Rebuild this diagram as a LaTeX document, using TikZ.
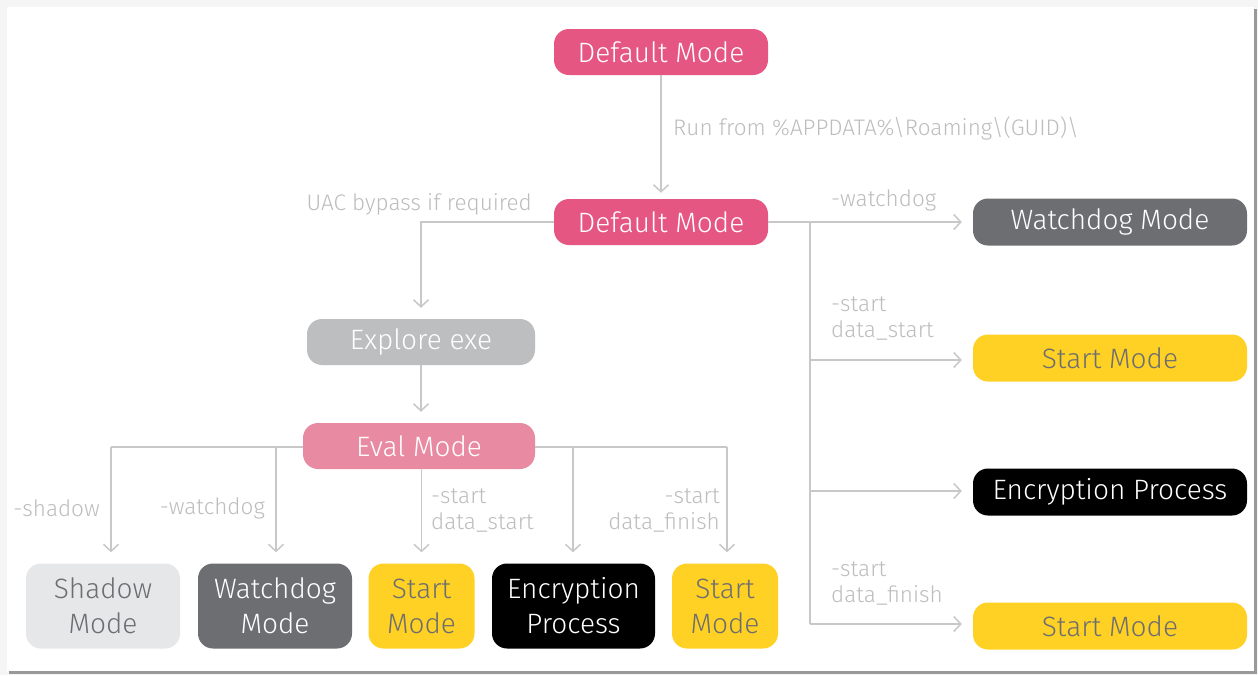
\documentclass[tikz,border=0pt]{standalone}
\usepackage{fontspec}
\setmainfont{Fira Sans}[UprightFont={* Light}]
\usetikzlibrary{arrows.meta}
\definecolor{pinkA}{HTML}{E55782}
\definecolor{pinkB}{HTML}{E88AA1}
\definecolor{grayL}{HTML}{BDBEC0}
\definecolor{grayD}{HTML}{6D6E71}
\definecolor{grayS}{HTML}{E6E7E8}
\definecolor{yel}{HTML}{FFD124}
\definecolor{lineC}{HTML}{C8C8C8}
\definecolor{labC}{HTML}{BDBDBD}
\tikzset{
  box/.style={rounded corners=15pt, inner sep=0pt, align=center,
    font=\fontsize{28}{35}\selectfont},
  pinkbox/.style={box, fill=pinkA, text=white, minimum width=214pt, minimum height=46pt},
  conn/.style={draw=lineC, line width=1.5pt},
  arr/.style={conn, -{Straight Barb[length=7pt,width=15pt,line width=1.5pt]}, shorten >=11pt},
  lab/.style={text=labC, inner sep=0pt, font=\fontsize{22.5}{26}\selectfont},
}
\begin{document}
\begin{tikzpicture}[x=1pt,y=-1pt]
\useasboundingbox (0,0) rectangle (1258,675);
\fill[black!4] (0,0) rectangle (1258,675);
\fill[black!40] (9,9) rectangle (1257,674);
\fill[white] (7,7) rectangle (1254,671);

% nodes
\node[pinkbox] (dm1) at (661,52) {Default Mode};
\node[pinkbox] (dm2) at (661,222) {Default Mode};
\node[box, fill=grayL, text=white, minimum width=228pt, minimum height=46pt] (exp) at (421,342) {Explore exe};
\node[box, fill=pinkB, text=white, minimum width=232pt, minimum height=46pt] (eval) at (419,446) {Eval Mode};

\node[box, fill=grayS, text=grayD, minimum width=154pt, minimum height=85pt] (shadow) at (103,606) {Shadow\\Mode};
\node[box, fill=grayD, text=white, minimum width=154pt, minimum height=85pt] (wd) at (275,606) {Watchdog\\Mode};
\node[box, fill=yel, text=grayD, minimum width=106pt, minimum height=85pt] (st1) at (421.5,606) {Start\\Mode};
\node[box, fill=black, text=white, minimum width=163pt, minimum height=85pt] (enc) at (573.5,606) {Encryption\\Process};
\node[box, fill=yel, text=grayD, minimum width=106pt, minimum height=85pt] (st2) at (725,606) {Start\\Mode};

\node[box, fill=grayD, text=white, minimum width=274pt, minimum height=47pt] (rwd) at (1110,222) {Watchdog Mode};
\node[box, fill=yel, text=grayD, minimum width=274pt, minimum height=47pt] (rst1) at (1110,358) {Start Mode};
\node[box, fill=black, text=white, minimum width=274pt, minimum height=47pt] (renc) at (1110,492) {Encryption Process};
\node[box, fill=yel, text=grayD, minimum width=274pt, minimum height=47pt] (rst2) at (1110,626) {Start Mode};

% coordinates
\coordinate (uacC) at (421,222);
\coordinate (evL1) at (111,447);
\coordinate (evL2) at (276,447);
\coordinate (evR1) at (573,447);
\coordinate (evR2) at (727,447);
\coordinate (trT) at (810,222);
\coordinate (tr1) at (810,360);
\coordinate (tr2) at (810,491);
\coordinate (tr3) at (810,624);

% connectors
\draw[arr, shorten >=6pt] (dm1) -- (dm2);
\draw[arr] (dm2.west) -- (uacC) -- (exp.north);
\draw[arr] (exp.south) -- (exp.south |- eval.north);
\draw[conn] (eval.west |- evL1) -- (evL1);
\draw[arr] (evL1) -- (shadow.north -| evL1);
\draw[arr] (evL2) -- (wd.north -| evL2);
\draw[arr] (eval.south -| st1.north) -- (st1.north);
\draw[conn] (eval.east |- evR2) -- (evR2);
\draw[arr] (evR1) -- (enc.north -| evR1);
\draw[arr] (evR2) -- (st2.north -| evR2);

\draw[conn] (dm2.east) -- (trT) -- (tr3);
\draw[arr] (trT) -- (rwd.west);
\draw[arr] (tr1) -- (rst1.west |- tr1);
\draw[arr] (tr2) -- (renc.west |- tr2);
\draw[arr] (tr3) -- (rst2.west |- tr3);

% labels
\node[lab, anchor=west] (l1) at (673,128) {Run from \%APPDATA\%\textbackslash Roaming\textbackslash(GUID)\textbackslash};
\node[lab, anchor=east] (l2) at (532,204) {UAC bypass if required};
\node[lab, anchor=west] (l3) at (831,200) {-watchdog};
\node[lab, anchor=west, align=left] (l4) at (831,318) {-start\\data\_start};
\node[lab, anchor=west, align=left] (l5) at (831,583) {-start\\data\_finish};
\node[lab, anchor=east] (l6) at (100,508) {-shadow};
\node[lab, anchor=east] (l7) at (265,508) {-watchdog};
\node[lab, anchor=west, align=left] (l8) at (431,510) {-start\\data\_start};
\node[lab, anchor=east, align=right] (l9) at (720,510) {-start\\data\_finish};
\end{tikzpicture}
\end{document}
